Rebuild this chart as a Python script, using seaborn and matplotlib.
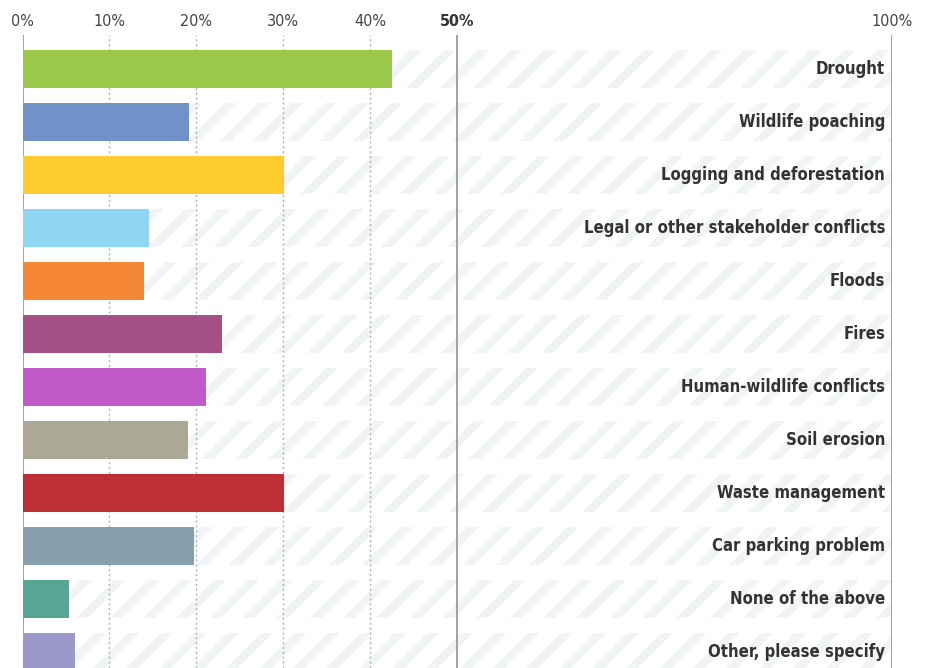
import matplotlib
matplotlib.use("Agg")
import matplotlib.pyplot as plt
import seaborn as sns
import pandas as pd

categories = [
    "Drought", "Wildlife poaching", "Logging and deforestation",
    "Legal or other stakeholder conflicts", "Floods", "Fires",
    "Human-wildlife conflicts", "Soil erosion", "Waste management",
    "Car parking problem", "None of the above", "Other, please specify",
]
values = [42.5, 19.1, 30.1, 14.5, 14.0, 22.9, 21.1, 19.0, 30.1, 19.7, 5.3, 6.0]
colors = ["#9bc94a", "#7191c9", "#fecb2e", "#8fd6f4", "#f58735", "#a54f87",
          "#c15ac9", "#aba996", "#be2e35", "#879fab", "#57a592", "#9c98c9"]
full_scale = [100] * len(categories)
tick_values = [0, 10, 20, 30, 40, 50, 100]
tick_labels = ["0%", "10%", "20%", "30%", "40%", "50%", "100%"]

sns.set_style("white")
plt.rcParams["font.family"] = ["DejaVu Sans"]
plt.rcParams["font.stretch"] = "condensed"
plt.rcParams["hatch.linewidth"] = 6
plt.rcParams["hatch.color"] = "#f0f4f5"

df = pd.DataFrame({"category": categories, "value": values, "full": full_scale})

fig = plt.figure(figsize=(9.27, 6.68), dpi=100)
ax = fig.add_axes([22.5 / 927, 0, (892 - 22.5) / 927, 633 / 668])

sns.barplot(data=df, x="full", y="category", orient="h", ax=ax, color="white",
            width=0.717, edgecolor="#f0f4f5", linewidth=0, hatch="/", zorder=1)
sns.barplot(data=df, x="value", y="category", hue="category", palette=colors,
            orient="h", ax=ax, width=0.717, linewidth=0, legend=False,
            saturation=1, zorder=3)

ax.set_xlim(0, 100)
ax.set_ylim(11.30, -0.642)

for v in tick_values:
    if v in (0, 50, 100):
        ax.axvline(v, color="#9a9a9a", lw=1.3, zorder=2)
    else:
        ax.axvline(v, color="#b0b0b0", lw=1.0, ls=(0, (1.5, 2)), zorder=2)

ax.xaxis.tick_top()
ax.set_xticks(tick_values)
ax.set_xticklabels(tick_labels, fontsize=11.5, color="#444444")
ax.get_xticklabels()[5].set_fontweight("bold")
ax.get_xticklabels()[5].set_color("#333333")
ax.tick_params(axis="x", length=0, pad=4)
ax.set_yticks([])
ax.set_xlabel("")
ax.set_ylabel("")
for s in ax.spines.values():
    s.set_visible(False)

for i, lab in enumerate(categories):
    ax.text(99.2, i, lab, ha="right", va="center", fontsize=12,
            fontweight="bold", color="#333333", zorder=5)

fig.savefig("out.png", dpi=100)
